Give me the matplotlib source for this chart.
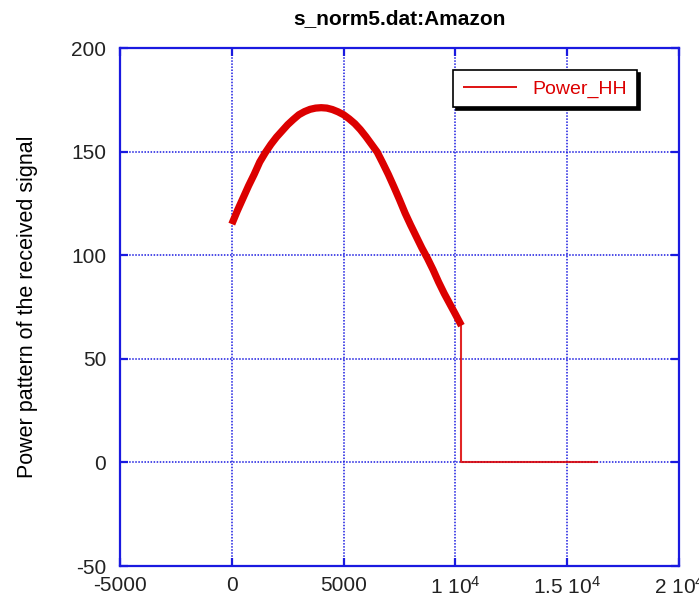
"""Received power pattern (HH) for the Amazon scene, s_norm5.dat."""

import matplotlib
import matplotlib.pyplot as plt
from matplotlib.ticker import FuncFormatter, MultipleLocator

matplotlib.use("Agg")

plt.rcParams["font.family"] = ["Liberation Sans", "DejaVu Sans"]
plt.rcParams["mathtext.fontset"] = "custom"
plt.rcParams["mathtext.rm"] = "Liberation Sans"
plt.rcParams["mathtext.it"] = "Liberation Sans"
plt.rcParams["axes.unicode_minus"] = False

# noisy part of the pattern (sample index vs power)
sample = [0, 250, 500, 750, 1000, 1250, 1500, 1750, 2000, 2250, 2500, 2750,
          3000, 3250, 3500, 3750, 4000, 4250, 4500, 4750, 5000, 5250, 5500,
          5750, 6000, 6250, 6500, 6750, 7000, 7250, 7500, 7750, 8000, 8250,
          8500, 8750, 9000, 9250, 9500, 9750, 10000, 10270]
power = [115, 121.5, 127.5, 133.5, 139, 145, 149.5, 153.5, 157, 160, 163, 165.5,
         167.8, 169.3, 170.4, 171, 171.2, 171, 170.3, 169.2, 167.8, 165.8, 163.5,
         160.6, 157.2, 153.5, 149.8, 144.5, 139, 133, 126.8, 120.3, 114.5, 109,
         103.5, 98.5, 93, 87, 81.5, 76.5, 71.5, 66]

# after the last valid sample the record is padded with zeros
pad_x = [10270, 10270, 16320]
pad_y = [66, 0, 0]

BLUE = "#1a1ae0"
RED = "#dc0000"

fig = plt.figure(figsize=(6.99, 5.98), dpi=100)
ax = fig.add_axes([120 / 699, 1 - 566 / 598, 559 / 699, 518 / 598])

ax.plot(sample, power, color=RED, lw=5.2, solid_capstyle="butt",
        solid_joinstyle="round", label="Power_HH")
ax.plot(pad_x, pad_y, color=RED, lw=1.5, alpha=0.85)

ax.set_xlim(-5000, 20000)
ax.set_ylim(-50, 200)
ax.xaxis.set_major_locator(MultipleLocator(5000))
ax.yaxis.set_major_locator(MultipleLocator(50))


def xfmt(v, _):
    if abs(v) >= 10000:
        m = v / 10000
        return f"{m:g} 10$^{{4}}$"
    return f"{v:.0f}"


ax.xaxis.set_major_formatter(FuncFormatter(xfmt))

for s in ax.spines.values():
    s.set_color(BLUE)
    s.set_linewidth(1.6)
ax.tick_params(direction="in", length=6, width=1.6, color=BLUE,
               top=True, right=True, labelsize=15, labelcolor="#222222")
ax.tick_params(axis="x", pad=7)
ax.tick_params(axis="y", pad=10)
ax.grid(True, color=BLUE, linestyle=(0, (1, 1)), linewidth=1.1)
ax.set_axisbelow(True)

ax.set_title("s_norm5.dat:Amazon", fontsize=15, fontweight="bold", pad=17)
ax.set_ylabel("Power pattern of the received signal", fontsize=15.5, labelpad=24)

leg = ax.legend(loc="upper right", bbox_to_anchor=(0.925, 0.9575), borderaxespad=0,
                fancybox=False, shadow={"color": "black", "alpha": 1},
                edgecolor="black", framealpha=1, fontsize=14, labelcolor=RED,
                handlelength=2.8, borderpad=0.5)
leg.get_frame().set_linewidth(1.2)
leg.get_lines()[0].set_linewidth(1.3)

fig.savefig("out.png", dpi=100)
